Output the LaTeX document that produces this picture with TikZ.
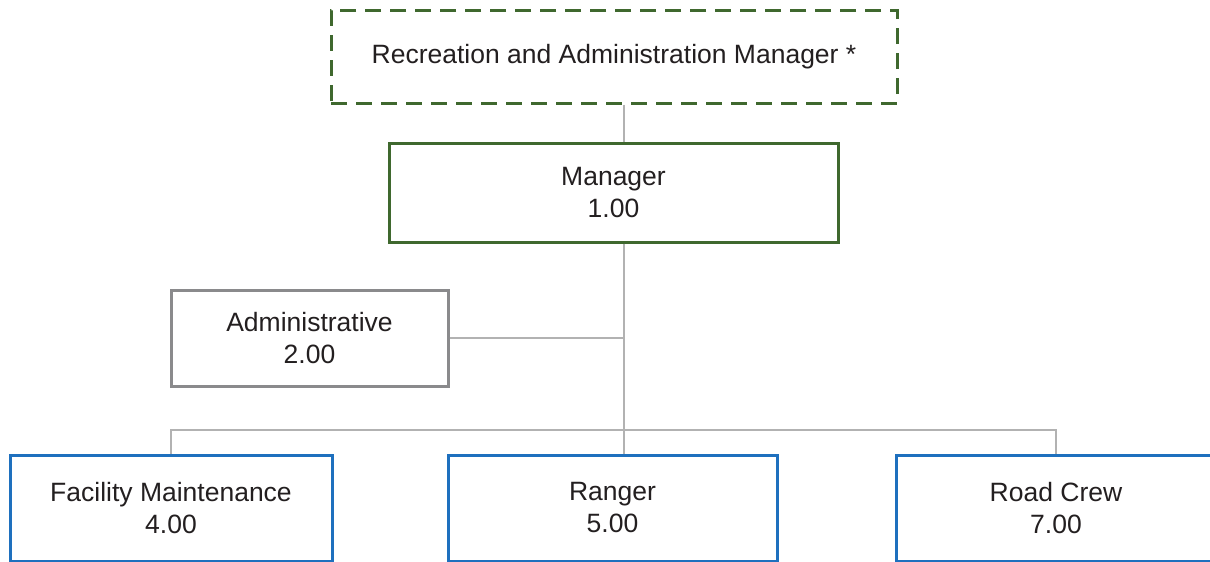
\documentclass[tikz,border=0pt]{standalone}
\usepackage{fontspec}
\setmainfont{Liberation Sans}
\usepackage{tikz}
\usetikzlibrary{positioning,calc}
\usepackage{xcolor}
\definecolor{orggreen}{RGB}{63,104,46}
\definecolor{orgblue}{RGB}{30,112,190}
\definecolor{orggray}{RGB}{138,138,140}
\definecolor{linkgray}{RGB}{178,178,178}
\definecolor{orgtext}{RGB}{35,31,32}

\tikzset{
  orgbox/.style={rectangle,draw,line width=1.5pt,fill=white,text=orgtext,
    align=center,font=\fontsize{13.25}{16}\selectfont},
  link/.style={draw=linkgray,line width=1pt}
}

\begin{document}
\begin{tikzpicture}[x=0.5pt,y=-0.5pt]
\useasboundingbox (0,0) rectangle (1210,562);

\node[orgbox,draw=orggreen,dash pattern=on 8pt off 4.5pt,
      minimum width=283pt,minimum height=46.5pt] (director) at (614,56.5)
  {Recreation and Administration Manager *};
\node[orgbox,draw=orggreen,minimum width=224.5pt,minimum height=49.5pt]
  (manager) at (613.5,192.5) {Manager\\1.00};
\node[orgbox,draw=orggray,minimum width=138.5pt,minimum height=48pt]
  (admin) at (309.5,338) {Administrative\\2.00};

% field crews
\node[orgbox,draw=orgblue,minimum width=161pt,minimum height=53pt]
  (facility) at (171,508) {Facility Maintenance\\4.00};
\node[orgbox,draw=orgblue,minimum width=164.5pt,minimum height=53pt]
  (ranger) at (612.5,508) {Ranger\\5.00};
\node[orgbox,draw=orgblue,minimum width=160pt,minimum height=53pt]
  (road) at (1056,508) {Road Crew\\7.00};

\coordinate (trunk) at (624,0);
\coordinate (bus) at (0,430);

% reporting lines
\path[link] (director.south -| trunk) -- (manager.north -| trunk);
\path[link] (manager.south -| trunk) -- (ranger.north -| trunk);
\path[link] (admin.east) -- (admin.east -| trunk);
\path[link] (facility.north) -- (facility.north |- bus)
  -- (road.north |- bus) -- (road.north);
\end{tikzpicture}
\end{document}
